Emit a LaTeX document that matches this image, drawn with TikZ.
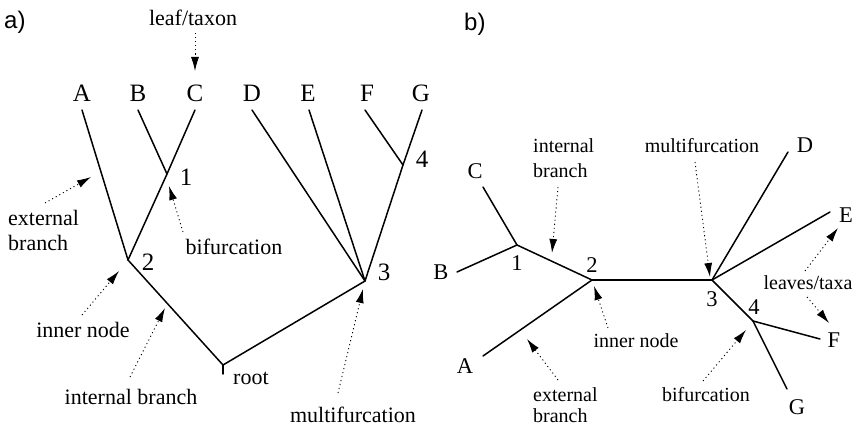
\documentclass[tikz,border=0pt]{standalone}
\usepackage{fontspec}
\setmainfont{Liberation Serif}
\newfontfamily\panelfont{Liberation Sans}
\usetikzlibrary{arrows.meta}
\tikzset{
  branch/.style={line width=1.5pt, line cap=round},
  pointer/.style={line width=0.9pt, dash pattern=on 1.1pt off 3pt, -{Latex[length=14pt,width=8pt]}},
  leafA/.style={inner sep=0pt, anchor=base, font=\fontsize{25}{28}\selectfont},
  leafB/.style={inner sep=0pt, anchor=base, font=\fontsize{22.5}{26}\selectfont},
  noteA/.style={inner sep=0pt, font=\fontsize{22}{25}\selectfont},
  noteB/.style={inner sep=0pt, font=\fontsize{20}{23}\selectfont},
  paneltag/.style={inner sep=0pt, anchor=base west, font=\panelfont\fontsize{24}{28}\selectfont}
}
\begin{document}
\begin{tikzpicture}[x=1pt,y=-1pt]
\useasboundingbox (0,0) rectangle (855,428);

% ---------------- panel a ----------------
\node[paneltag] (taga) at (4,29) {a)};

% leaves
\node[leafA] (aA) at (82,102) {A};
\node[leafA] (aB) at (138,102) {B};
\node[leafA] (aC) at (195,102) {C};
\node[leafA] (aD) at (252,102) {D};
\node[leafA] (aE) at (308,102) {E};
\node[leafA] (aF) at (367,102) {F};
\node[leafA] (aG) at (421,102) {G};

% branch tips and inner nodes
\coordinate (atA) at (82,110);
\coordinate (atB) at (138,110);
\coordinate (atC) at (195,110);
\coordinate (atD) at (252,110);
\coordinate (atE) at (309,110);
\coordinate (atF) at (365,110);
\coordinate (atG) at (422,110);
\coordinate (a1) at (167,174);
\coordinate (a2) at (128,260);
\coordinate (a3) at (365,281);
\coordinate (a4) at (403,165);
\coordinate (aroot) at (223,365);
\coordinate (arootend) at (223,374);

\draw[branch] (atA) -- (a2);
\draw[branch] (atB) -- (a1);
\draw[branch] (atC) -- (a1) -- (a2);
\draw[branch] (a2) -- (aroot) -- (a3);
\draw[branch] (aroot) -- (arootend);
\draw[branch] (atD) -- (a3);
\draw[branch] (atE) -- (a3);
\draw[branch] (atF) -- (a4);
\draw[branch] (atG) -- (a4) -- (a3);

% node numbers
\node[leafA] (an1) at (186,185) {1};
\node[leafA] (an2) at (148,270) {2};
\node[leafA] (an3) at (384,280) {3};
\node[leafA] (an4) at (422,167) {4};
\node[noteA, anchor=base west] (aroottxt) at (233,384) {root};

% annotations
\node[noteA, anchor=base] (aleaf) at (193,26) {leaf/taxon};
\coordinate (aleafs) at (195,33);
\coordinate (aleaft) at (195,71);
\draw[pointer] (aleafs) -- (aleaft);

\node[noteA, anchor=base west] (aext1) at (8,225) {external};
\node[noteA, anchor=base west] (aext2) at (8,250) {branch};
\coordinate (aexts) at (45,203);
\coordinate (aextt) at (91,177);
\draw[pointer] (aexts) -- (aextt);

\node[noteA, anchor=base] (abif) at (234,254) {bifurcation};
\coordinate (abifs) at (183,232);
\coordinate (abift) at (169,186);
\draw[pointer] (abifs) -- (abift);

\node[noteA, anchor=base] (ainn) at (83,337) {inner node};
\coordinate (ainns) at (82,315);
\coordinate (ainnt) at (119,271);
\draw[pointer] (ainns) -- (ainnt);

\node[noteA, anchor=base] (aint) at (131,404) {internal branch};
\coordinate (aints) at (130,377);
\coordinate (aintt) at (165,308);
\draw[pointer] (aints) -- (aintt);

\node[noteA, anchor=base] (amul) at (353,422) {multifurcation};
\coordinate (amuls) at (338,393);
\coordinate (amult) at (363,289);
\draw[pointer] (amuls) -- (amult);

% ---------------- panel b ----------------
\node[paneltag] (tagb) at (464,31) {b)};

\node[leafB] (bC) at (475,178) {C};
\node[leafB] (bB) at (441,279) {B};
\node[leafB] (bA) at (465,373) {A};
\node[leafB] (bD) at (805,153) {D};
\node[leafB] (bE) at (846,222) {E};
\node[leafB] (bF) at (834,347) {F};
\node[leafB] (bG) at (797,414) {G};

\coordinate (btC) at (483,187);
\coordinate (btB) at (457,272);
\coordinate (btA) at (483,356);
\coordinate (btD) at (788,152);
\coordinate (btE) at (830,212);
\coordinate (btF) at (820,339);
\coordinate (btG) at (787,389);
\coordinate (b1) at (517,245);
\coordinate (b2) at (592,280);
\coordinate (b3) at (712,280);
\coordinate (b4) at (753,321);

\draw[branch] (btC) -- (b1);
\draw[branch] (btB) -- (b1);
\draw[branch] (b1) -- (b2);
\draw[branch] (btA) -- (b2);
\draw[branch] (b2) -- (b3);
\draw[branch] (b3) -- (btD);
\draw[branch] (b3) -- (btE);
\draw[branch] (b3) -- (b4);
\draw[branch] (b4) -- (btF);
\draw[branch] (b4) -- (btG);

\node[leafB] (bn1) at (517,270) {1};
\node[leafB] (bn2) at (592,272) {2};
\node[leafB] (bn3) at (712,306) {3};
\node[leafB] (bn4) at (754,314) {4};

\node[noteB, anchor=base west] (bint1) at (533,153) {internal};
\node[noteB, anchor=base west] (bint2) at (533,177) {branch};
\coordinate (bints) at (558,187);
\coordinate (bintt) at (552,253);
\draw[pointer] (bints) -- (bintt);

\node[noteB, anchor=base] (bmul) at (702,153) {multifurcation};
\coordinate (bmuls) at (695,162);
\coordinate (bmult) at (710,277);
\draw[pointer] (bmuls) -- (bmult);

\node[noteB, anchor=base] (binn) at (636,347) {inner node};
\coordinate (binns) at (608,328);
\coordinate (binnt) at (594,286);
\draw[pointer] (binns) -- (binnt);

\node[noteB, anchor=base west] (bext1) at (533,401) {external};
\node[noteB, anchor=base west] (bext2) at (533,422) {branch};
\coordinate (bexts) at (558,380);
\coordinate (bextt) at (527,339);
\draw[pointer] (bexts) -- (bextt);

\node[noteB, anchor=base] (bbif) at (706,401) {bifurcation};
\coordinate (bbifs) at (703,381);
\coordinate (bbift) at (746,330);
\draw[pointer] (bbifs) -- (bbift);

\node[noteB, anchor=base] (bleav) at (808,289) {leaves/taxa};
\coordinate (bleavs1) at (805,271);
\coordinate (bleavt1) at (838,228);
\draw[pointer] (bleavs1) -- (bleavt1);
\coordinate (bleavs2) at (807,297);
\coordinate (bleavt2) at (829,323);
\draw[pointer] (bleavs2) -- (bleavt2);

\end{tikzpicture}
\end{document}
